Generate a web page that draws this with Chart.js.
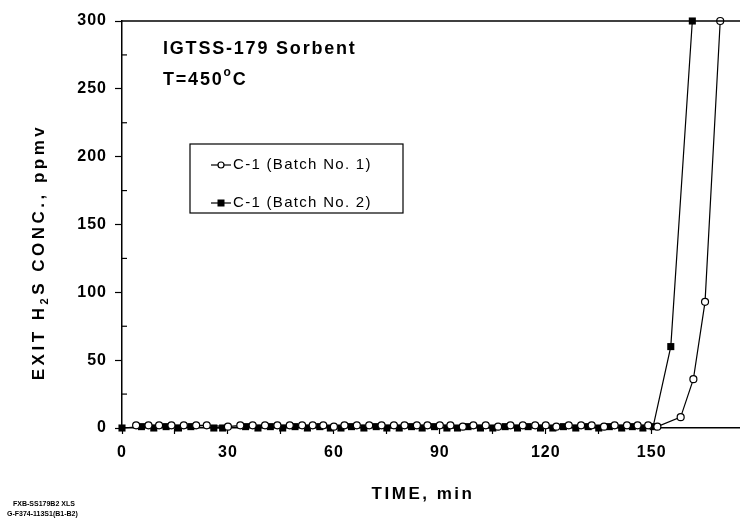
<!DOCTYPE html>
<html>
<head>
<meta charset="utf-8">
<script src="https://cdn.jsdelivr.net/npm/chart.js@4.4.1/dist/chart.umd.min.js"></script>
<style>
  html, body { margin: 0; padding: 0; background: #fff; }
  #wrap { width: 740px; height: 520px; position: relative; }
</style>
</head>
<body>
<div id="wrap"><canvas id="h2sChart"></canvas></div>
<script>
// C-1 (Batch No. 1) - open circles
const batch1Time = [4, 7.5, 10.5, 14, 17.5, 21, 24, 30, 33.5, 37, 40.5, 44, 47.5, 51, 54, 57, 60, 63, 66.5, 70, 73.5, 77, 80, 83.5, 86.5, 90, 93, 96.5, 99.5, 103, 106.5, 110, 113.5, 117, 120, 123, 126.5, 130, 133, 136.5, 139.5, 143, 146, 149, 151.6, 158.2, 161.8, 165.1, 169.4];
const batch1Conc = [2, 2, 2, 2, 2, 2, 2, 1, 2, 2, 2, 2, 2, 2, 2, 2, 1, 2, 2, 2, 2, 2, 2, 2, 2, 2, 2, 1, 2, 2, 1, 2, 2, 2, 2, 1, 2, 2, 2, 1, 2, 2, 2, 2, 1, 8, 36, 93, 300];
// C-1 (Batch No. 2) - filled squares
const batch2Time = [0, 5.5, 9, 12.5, 16, 19.5, 26, 28.5, 35, 38.5, 42, 45.5, 49, 52.5, 56, 59, 62, 65, 68.5, 72, 75, 78.5, 82, 85, 88.5, 92, 95, 98, 101.5, 105, 108.5, 112, 115, 118.5, 122, 125, 128.5, 132, 135, 138, 141.5, 144.5, 147.5, 150.4, 155.4, 161.5];
const batch2Conc = [0, 1, 0, 1, 0, 1, 0, 0, 1, 0, 1, 0, 1, 0, 1, 0, 0, 1, 0, 1, 0, 0, 1, 0, 1, 0, 0, 1, 0, 0, 1, 0, 1, 0, 0, 1, 0, 1, 0, 1, 0, 1, 0, 1, 60, 300];

const seriesNames = ['C-1 (Batch No. 1)', 'C-1 (Batch No. 2)'];
const xTickLabels = [0, 30, 60, 90, 120, 150];
const yTickLabels = [0, 50, 100, 150, 200, 250, 300];

const FONT = 'Liberation Sans, Arial, sans-serif';

function pts(xs, ys) {
    return xs.map((x, i) => ({ x: x, y: ys[i] }));
}

// draws text with a little extra tracking, like the scanned original
function spacedText(ctx, str, x, y, spacing) {
    ctx.letterSpacing = spacing + 'px';
    ctx.fillText(str, x, y);
    ctx.letterSpacing = '0px';
}

const decorations = {
    id: 'decorations',
    beforeLayout(chart) {
        chart.ctx.letterSpacing = '1px';
    },
    beforeDraw(chart) {
        const ctx = chart.ctx;
        ctx.save();
        ctx.fillStyle = '#fff';
        ctx.fillRect(0, 0, chart.width, chart.height);
        ctx.restore();
        ctx.letterSpacing = '1px';
    },
    afterDatasetsDraw(chart) {
        const ctx = chart.ctx;
        const area = chart.chartArea;
        const y = chart.scales.y;
        ctx.save();
        ctx.strokeStyle = '#000';
        ctx.fillStyle = '#000';

        // top frame line
        ctx.lineWidth = 1.5;
        ctx.beginPath();
        ctx.moveTo(area.left, area.top);
        ctx.lineTo(area.right, area.top);
        ctx.stroke();

        // inner minor ticks on the y axis
        ctx.lineWidth = 1.2;
        for (let v = 25; v < 300; v += 50) {
            const py = y.getPixelForValue(v);
            ctx.beginPath();
            ctx.moveTo(area.left, py);
            ctx.lineTo(area.left + 5, py);
            ctx.stroke();
        }

        // annotations
        ctx.textBaseline = 'alphabetic';
        ctx.textAlign = 'left';
        ctx.font = 'bold 18px ' + FONT;
        spacedText(ctx, 'IGTSS-179 Sorbent', 163, 54, 1.8);
        let tx = 163;
        ctx.font = 'bold 18px ' + FONT;
        ctx.letterSpacing = '1.8px';
        ctx.fillText('T=450', tx, 85);
        tx += ctx.measureText('T=450').width;
        ctx.font = 'bold 12px ' + FONT;
        ctx.fillText('o', tx, 76);
        tx += ctx.measureText('o').width;
        ctx.font = 'bold 18px ' + FONT;
        ctx.fillText('C', tx, 85);
        ctx.letterSpacing = '0px';

        // legend box
        const lx = 190, ly = 144, lw = 213, lh = 69;
        ctx.lineWidth = 1.2;
        ctx.strokeRect(lx, ly, lw, lh);
        const rows = [ly + 21, ly + 59];
        chart.data.datasets.forEach((ds, i) => {
            const ry = rows[i];
            ctx.lineWidth = 1.2;
            ctx.beginPath();
            ctx.moveTo(lx + 21, ry);
            ctx.lineTo(lx + 41, ry);
            ctx.stroke();
            if (ds.pointStyle === 'rect') {
                ctx.fillStyle = '#000';
                ctx.fillRect(lx + 27.5, ry - 3.5, 7, 7);
            } else {
                ctx.fillStyle = '#fff';
                ctx.beginPath();
                ctx.arc(lx + 31, ry, 3, 0, Math.PI * 2);
                ctx.fill();
                ctx.stroke();
            }
            ctx.fillStyle = '#000';
            ctx.font = '15px ' + FONT;
            ctx.textBaseline = 'middle';
            spacedText(ctx, ds.label, lx + 43, ry, 1.3);
        });

        // axis titles
        ctx.textAlign = 'center';
        ctx.textBaseline = 'alphabetic';
        ctx.font = 'bold 17px ' + FONT;
        spacedText(ctx, 'TIME, min', 423, 499, 2.5);

        ctx.save();
        ctx.translate(44, 252);
        ctx.rotate(-Math.PI / 2);
        ctx.letterSpacing = '3.5px';
        const parts = [['EXIT H', 17, 0], ['2', 11, 4], ['S CONC., ppmv', 17, 0]];
        let total = 0;
        parts.forEach(p => { ctx.font = 'bold ' + p[1] + 'px ' + FONT; total += ctx.measureText(p[0]).width; });
        let px = -total / 2;
        ctx.textAlign = 'left';
        parts.forEach(p => {
            ctx.font = 'bold ' + p[1] + 'px ' + FONT;
            ctx.fillText(p[0], px, p[2]);
            px += ctx.measureText(p[0]).width;
        });
        ctx.restore();

        // file notes, bottom left
        ctx.textAlign = 'left';
        ctx.textBaseline = 'middle';
        ctx.font = 'bold 7px ' + FONT;
        ctx.letterSpacing = '0px';
        ctx.fillText('FXB-SS179B2 XLS', 13, 504);
        ctx.fillText('G-F374-113S1(B1-B2)', 7, 514);
        ctx.restore();
    }
};

document.addEventListener('DOMContentLoaded', () => {
    const ctx = document.getElementById('h2sChart').getContext('2d');
    new Chart(ctx, {
        type: 'scatter',
        data: {
            datasets: [{
                label: seriesNames[0],
                data: pts(batch1Time, batch1Conc),
                showLine: true,
                borderColor: '#000',
                borderWidth: 1.2,
                pointStyle: 'circle',
                pointRadius: 3.5,
                pointBorderWidth: 1.2,
                pointBackgroundColor: '#fff',
                pointBorderColor: '#000',
                clip: false
            }, {
                label: seriesNames[1],
                data: pts(batch2Time, batch2Conc),
                showLine: true,
                borderColor: '#000',
                borderWidth: 1.2,
                pointStyle: 'rect',
                pointRadius: 5,
                pointBorderWidth: 0,
                pointBackgroundColor: '#000',
                pointBorderColor: '#000',
                clip: false
            }]
        },
        options: {
            responsive: true,
            maintainAspectRatio: false,
            animation: false,
            layout: { autoPadding: false, padding: { left: 40, right: 0, top: 21, bottom: 0 } },
            plugins: {
                legend: { display: false },
                tooltip: { enabled: false }
            },
            scales: {
                x: {
                    type: 'linear',
                    min: 0,
                    max: 175,
                    afterFit: s => { s.height = 92; },
                    afterBuildTicks: s => {
                        s.ticks = s.ticks.filter(t => t.value % 15 === 0 && t.value <= 165);
                    },
                    ticks: {
                        stepSize: 15,
                        autoSkip: false,
                        maxRotation: 0,
                        padding: 9,
                        color: '#000',
                        font: { family: FONT, size: 16, weight: 'bold' },
                        callback: v => xTickLabels.includes(v) ? String(v) : ''
                    },
                    grid: {
                        drawOnChartArea: false,
                        tickLength: 6,
                        tickWidth: 1.2,
                        color: '#000'
                    },
                    border: { display: true, color: '#000', width: 1.5 }
                },
                y: {
                    min: 0,
                    max: 300,
                    afterFit: s => { s.width = 82; },
                    ticks: {
                        stepSize: 50,
                        padding: 8,
                        color: '#000',
                        font: { family: FONT, size: 16, weight: 'bold' },
                        callback: v => yTickLabels.includes(v) ? String(v) : ''
                    },
                    grid: {
                        drawOnChartArea: false,
                        tickLength: 7,
                        tickWidth: 1.2,
                        color: '#000'
                    },
                    border: { display: true, color: '#000', width: 1.5 }
                }
            }
        },
        plugins: [decorations]
    });
});
</script>
</body>
</html>
